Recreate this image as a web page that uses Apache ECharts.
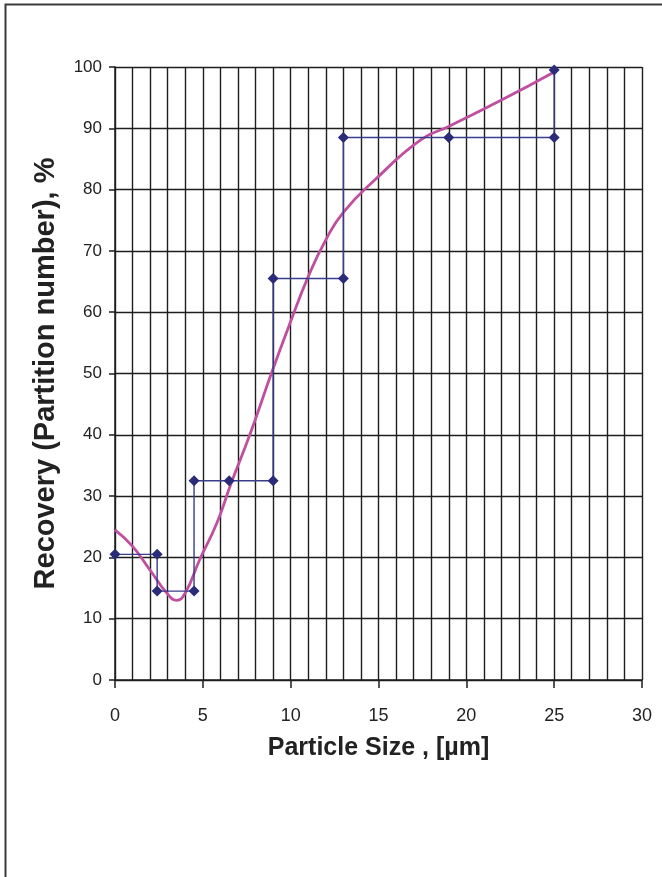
<!DOCTYPE html>
<html>
<head>
<meta charset="utf-8">
<script src="https://cdn.jsdelivr.net/npm/echarts@6/dist/echarts.min.js"></script>
<style>
  html, body { margin: 0; padding: 0; background: #fff; }
  #chart { width: 662px; height: 877px; }
</style>
</head>
<body>
<div id="chart"></div>
<script>
// Measured partition numbers per size class (stepped histogram outline)
const stepSize = [0, 2.4, 2.4, 4.5, 4.5, 6.5, 9, 9, 13, 13, 19, 25, 25];
const stepRecovery = [20.5, 20.5, 14.5, 14.5, 32.5, 32.5, 32.5, 65.5, 65.5, 88.5, 88.5, 88.5, 99.5];

// Fitted partition curve
const curveSize = [0, 1, 2, 3, 3.5, 4, 4.8, 5.8, 6.6, 7.7, 8.9, 10, 11, 12, 13, 14.8, 17.4, 19, 22, 25];
const curveRecovery = [24.5, 21.8, 17.9, 14.0, 13.0, 14.2, 19.5, 25.6, 32.0, 40.2, 50.0, 58.5, 65.8, 71.8, 76.3, 81.6, 88.1, 90.3, 94.6, 99.2];

const xTitle = 'Particle Size , [µm]';
const yTitle = 'Recovery (Partition number), %';

const pair = (xs, ys) => xs.map((x, i) => [x, ys[i]]);

const font = 'Arial, "Liberation Sans", sans-serif';
const gridColor = '#1e1e1e';
const chart = echarts.init(document.getElementById('chart'), null, { renderer: 'canvas' });

chart.setOption({
  animation: false,
  backgroundColor: '#fff',
  graphic: [{
    type: 'rect',
    shape: { x: 5.5, y: 4.5, width: 700, height: 900 },
    style: { fill: 'none', stroke: '#3a3a3a', lineWidth: 2 },
    silent: true
  }],
  grid: { left: 115, top: 67, width: 527, height: 613, containLabel: false },
  xAxis: {
    type: 'value',
    min: 0, max: 30, interval: 5,
    name: xTitle,
    nameLocation: 'middle',
    nameGap: 56,
    nameTextStyle: { fontFamily: font, fontWeight: 'bold', fontSize: 25, color: '#222' },
    axisLine: { show: true, onZero: false, lineStyle: { color: gridColor, width: 1.5 } },
    axisTick: { show: true, length: 8, inside: false, lineStyle: { color: gridColor, width: 1.5 } },
    minorTick: { show: false, splitNumber: 5 },
    axisLabel: { margin: 27, fontFamily: font, fontSize: 18, color: '#222' },
    splitLine: { show: true, lineStyle: { color: gridColor, width: 1.4 } },
    minorSplitLine: { show: true, lineStyle: { color: gridColor, width: 1.4 } }
  },
  yAxis: {
    type: 'value',
    min: 0, max: 100, interval: 10,
    name: yTitle,
    nameLocation: 'middle',
    nameGap: 55,
    nameRotate: 90,
    nameTextStyle: { fontFamily: font, fontWeight: 'bold', fontSize: 29, color: '#222' },
    axisLine: { show: true, onZero: false, lineStyle: { color: gridColor, width: 1.5 } },
    axisTick: { show: true, length: 6, inside: false, lineStyle: { color: gridColor, width: 1.5 } },
    axisLabel: { margin: 13, fontFamily: font, fontSize: 17, color: '#222' },
    splitLine: { show: true, lineStyle: { color: gridColor, width: 1.4 } }
  },
  series: [
    {
      name: 'Partition curve',
      type: 'line',
      data: pair(curveSize, curveRecovery),
      smooth: 0.5,
      showSymbol: false,
      symbol: 'none',
      lineStyle: { color: '#C04FA0', width: 2.8 },
      z: 3
    },
    {
      name: 'Partition number',
      type: 'line',
      data: pair(stepSize, stepRecovery),
      smooth: false,
      symbol: 'diamond',
      symbolSize: 11,
      itemStyle: { color: '#2A2C7A' },
      lineStyle: { color: '#3A3C8C', width: 1.4 },
      z: 4
    }
  ]
});
</script>
</body>
</html>
